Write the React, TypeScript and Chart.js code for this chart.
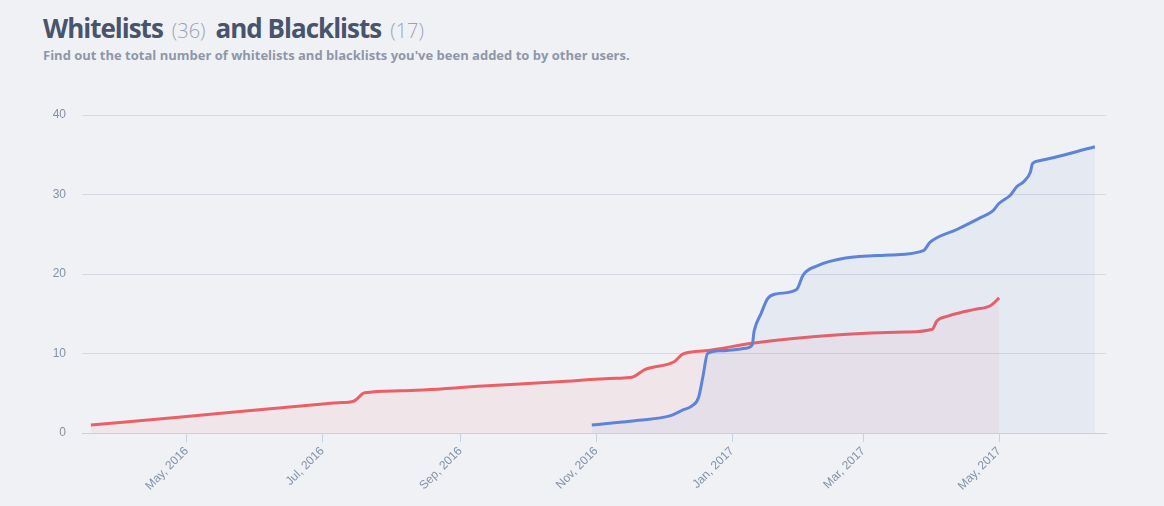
import React, { useEffect, useRef } from 'react';
import { Chart, registerables } from 'chart.js';

Chart.register(...registerables);

// ---- data ----
const whitelistDates = [
  '2016-10-30', '2016-11-20', '2016-12-04', '2016-12-10', '2016-12-14', '2016-12-17',
  '2016-12-19', '2016-12-21', '2016-12-27', '2017-01-07', '2017-01-10', '2017-01-11',
  '2017-01-14', '2017-01-17', '2017-01-21', '2017-01-30', '2017-02-02', '2017-02-08',
  '2017-02-21', '2017-03-13', '2017-03-28', '2017-03-31', '2017-04-12', '2017-04-22',
  '2017-04-28', '2017-05-01', '2017-05-06', '2017-05-09', '2017-05-12', '2017-05-15',
  '2017-05-16', '2017-05-19', '2017-06-13',
];
const whitelistCounts = [
  1.0, 1.6, 2.15, 2.9, 3.4, 4.5,
  7.2, 10.0, 10.35, 10.65, 11.05, 12.9,
  15.0, 16.9, 17.5, 18.05, 19.9, 21.0,
  22.0, 22.4, 22.95, 24.0, 25.6, 27.0,
  27.9, 28.9, 29.9, 31.0, 31.6, 32.8,
  33.9, 34.25, 36.0,
];

const blacklistDates = [
  '2016-03-19', '2016-05-01', '2016-06-10', '2016-07-08', '2016-07-15', '2016-07-20',
  '2016-08-05', '2016-09-11', '2016-10-15', '2016-11-10', '2016-11-17', '2016-11-23',
  '2016-12-06', '2016-12-10', '2016-12-20', '2017-01-10', '2017-01-22', '2017-02-20',
  '2017-03-20', '2017-04-01', '2017-04-03', '2017-04-08', '2017-04-13', '2017-04-20',
  '2017-04-27', '2017-05-01',
];
const blacklistCounts = [
  1.0, 2.08, 3.1, 3.8, 4.0, 5.05,
  5.3, 5.9, 6.45, 6.88, 7.0, 8.0,
  8.97, 9.95, 10.35, 11.28, 11.7, 12.4,
  12.7, 13.05, 14.1, 14.7, 15.1, 15.55,
  16.0, 17.0,
];

const xTickDates = ['2016-05-01', '2016-07-01', '2016-09-01', '2016-11-01', '2017-01-01', '2017-03-01', '2017-05-01'];
const xTickLabels = ['May, 2016', 'Jul, 2016', 'Sep, 2016', 'Nov, 2016', 'Jan, 2017', 'Mar, 2017', 'May, 2017'];
const xAxisStart = '2016-03-15';
const xAxisEnd = '2017-06-18';
const yMin = 0;
const yMax = 40;
const yStep = 10;

const whitelistTotal = 36;
const blacklistTotal = 17;

const ts = (d: string) => new Date(d + 'T00:00:00Z').getTime();

const BG = '#f0f1f5';
const tickFont = { family: "'Liberation Sans', Arial, sans-serif", size: 12 };
const tickColor = '#8192a7';

export default function App() {
  const canvasRef = useRef<HTMLCanvasElement | null>(null);

  useEffect(() => {
    const canvas = canvasRef.current;
    if (!canvas) return;
    const chart = new Chart(canvas, {
      type: 'line',
      data: {
        datasets: [
          {
            label: 'Whitelists',
            data: whitelistDates.map((d, i) => ({ x: ts(d), y: whitelistCounts[i] })),
            borderColor: '#5d84d8',
            backgroundColor: 'rgba(93,132,216,0.075)',
            fill: 'origin',
            borderWidth: 3,
            pointRadius: 0,
            cubicInterpolationMode: 'monotone',
          },
          {
            label: 'Blacklists',
            data: blacklistDates.map((d, i) => ({ x: ts(d), y: blacklistCounts[i] })),
            borderColor: '#ec5f67',
            backgroundColor: 'rgba(236,95,103,0.075)',
            fill: 'origin',
            borderWidth: 3,
            pointRadius: 0,
            cubicInterpolationMode: 'monotone',
          },
        ],
      },
      options: {
        animation: false,
        responsive: false,
        maintainAspectRatio: false,
        layout: { padding: { top: 115, left: 0, right: 58, bottom: 0 } },
        plugins: { legend: { display: false }, tooltip: { enabled: false } },
        scales: {
          x: {
            type: 'linear',
            min: ts(xAxisStart),
            max: ts(xAxisEnd),
            afterBuildTicks: (s: any) => {
              s.ticks = xTickDates.map((d) => ({ value: ts(d) }));
            },
            afterFit: (s: any) => {
              s.height = 73;
            },
            ticks: {
              autoSkip: false,
              minRotation: 45,
              maxRotation: 45,
              padding: 2,
              color: tickColor,
              font: tickFont,
              callback: (_v: any, i: number) => xTickLabels[i],
            },
            grid: { drawOnChartArea: false, drawTicks: true, tickLength: 9, color: '#c4d2e1' },
            border: { color: '#c4d2e1', width: 1 },
          },
          y: {
            min: yMin,
            max: yMax,
            afterFit: (s: any) => {
              s.width = 82;
            },
            ticks: { stepSize: yStep, padding: 16, color: tickColor, font: tickFont },
            grid: { color: '#d6d9e2', drawTicks: false },
            border: { display: false },
          },
        },
      },
    } as any);
    return () => chart.destroy();
  }, []);

  return (
    <div style={{ position: 'fixed', left: 0, top: 0, width: 1164, height: 506, background: BG, overflow: 'hidden' }}>
      <div
        style={{
          position: 'absolute',
          left: 43,
          top: 10,
          fontFamily: "'Open Sans', sans-serif",
          fontSize: 26,
          lineHeight: '36px',
          whiteSpace: 'nowrap',
          color: '#48546c',
        }}
      >
        <span style={{ fontWeight: 700, letterSpacing: '-1px' }}>Whitelists</span>
        <span style={{ fontWeight: 300, fontSize: 20, color: '#9aa3b3', marginLeft: 9 }}>({whitelistTotal})</span>
        <span style={{ fontWeight: 700, letterSpacing: '-1px', marginLeft: 10 }}>and Blacklists</span>
        <span style={{ fontWeight: 300, fontSize: 20, color: '#9aa3b3', marginLeft: 9 }}>({blacklistTotal})</span>
      </div>
      <div
        style={{
          position: 'absolute',
          left: 43,
          top: 46,
          fontFamily: "'Open Sans', sans-serif",
          fontSize: 13,
          fontWeight: 700,
          lineHeight: '18px',
          whiteSpace: 'nowrap',
          color: '#8e97a8',
        }}
      >
        Find out the total number of whitelists and blacklists you've been added to by other users.
      </div>
      <canvas
        ref={canvasRef}
        width={1164}
        height={506}
        style={{ position: 'absolute', left: 0, top: 0, width: 1164, height: 506 }}
      />
    </div>
  );
}
